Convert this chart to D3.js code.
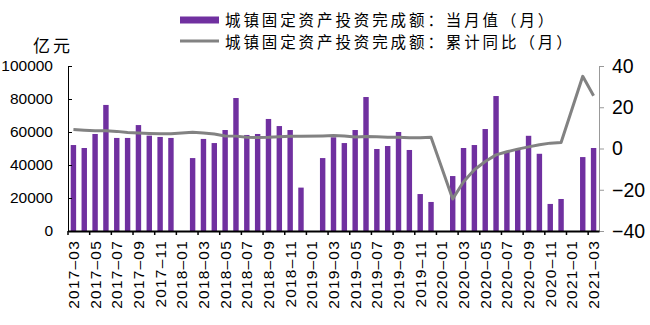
<!DOCTYPE html>
<html><head><meta charset="utf-8">
<script src="https://cdn.jsdelivr.net/npm/d3@7"></script>
<style>
body{margin:0;background:#fff;}
svg{display:block;}
</style></head><body>
<svg id="c" width="650" height="325"></svg>
<script>
const months = ["2017-03","2017-04","2017-05","2017-06","2017-07","2017-08","2017-09","2017-10","2017-11","2017-12",
"2018-01","2018-02","2018-03","2018-04","2018-05","2018-06","2018-07","2018-08","2018-09","2018-10","2018-11","2018-12",
"2019-01","2019-02","2019-03","2019-04","2019-05","2019-06","2019-07","2019-08","2019-09","2019-10","2019-11","2019-12",
"2020-01","2020-02","2020-03","2020-04","2020-05","2020-06","2020-07","2020-08","2020-09","2020-10","2020-11","2020-12",
"2021-01","2021-02","2021-03"];
const monthlyValue = [52100,50300,58800,76400,56400,56400,64200,57800,57000,56400,
null,44200,55800,53300,61200,80600,58200,58800,67900,63600,61200,26300,
null,44200,56800,53300,61200,81200,49700,51500,60000,49100,22400,17600,
null,33300,50300,52100,61800,81800,48000,49500,57700,46800,16400,19400,
null,44800,50300];
const cumulativeYoY = [9.2,8.9,8.6,8.6,8.3,7.8,7.5,7.3,7.2,7.2,
null,7.9,7.5,7.0,6.1,6.0,5.5,5.3,5.4,5.7,5.9,5.9,
null,6.1,6.3,6.1,5.6,5.8,5.7,5.5,5.4,5.2,5.2,5.4,
null,-24.5,-16.1,-10.3,-6.3,-3.1,-1.6,-0.3,0.8,1.8,2.6,2.9,
null,35.0,25.6];
const leftTicks = [0,20000,40000,60000,80000,100000];
const rightTicks = [-40,-20,0,20,40];
const seriesNames = ["城镇固定资产投资完成额：当月值（月）","城镇固定资产投资完成额：累计同比（月）"];
const unitLabel = "亿元";

const L=68,R=599,T=66,B=231;
const purple="#7030A0", grey="#828282";
const svg=d3.select("#c");
const x=d3.scaleBand().domain(months).range([L,R]).paddingInner(0).paddingOuter(0);
const yL=d3.scaleLinear().domain([0,100000]).range([B,T]);
const yR=d3.scaleLinear().domain([-40,40]).range([B,T]);
const bw=x.bandwidth(), barW=bw*0.5;

// bars
svg.append("g").selectAll("rect").data(months.map((m,i)=>({m,v:monthlyValue[i]})).filter(d=>d.v!=null))
 .join("rect").attr("x",d=>x(d.m)+(bw-barW)/2).attr("width",barW)
 .attr("y",d=>yL(d.v)).attr("height",d=>yL(0)-yL(d.v)).attr("fill",purple);

// line
const lineData=months.map((m,i)=>({m,v:cumulativeYoY[i]})).filter(d=>d.v!=null);
svg.append("path").datum(lineData).attr("fill","none").attr("stroke",grey).attr("stroke-width",3)
 .attr("stroke-linejoin","round")
 .attr("d",d3.line().x(d=>x(d.m)+bw/2).y(d=>yR(d.v)));

// left axis
const gl=svg.append("g").attr("transform",`translate(${L},0)`)
 .call(d3.axisLeft(yL).tickValues(leftTicks).tickSizeInner(-4).tickSizeOuter(0).tickPadding(15).tickFormat(d3.format("d")));
gl.select(".domain").attr("stroke","#000");
gl.selectAll(".tick line").attr("stroke","#000");
gl.selectAll("text").attr("font-family","Liberation Sans, Arial, sans-serif").attr("font-size","15.5px").attr("fill","#000");

// right axis
const gr=svg.append("g").attr("transform",`translate(${R},0)`)
 .call(d3.axisRight(yR).tickValues(rightTicks).tickSizeInner(5).tickSizeOuter(0).tickPadding(8).tickFormat(d=>d<0?"−"+Math.abs(d):d));
gr.select(".domain").attr("stroke","#999");
gr.selectAll(".tick line").attr("stroke","#999");
gr.selectAll("text").attr("font-family","Liberation Sans, Arial, sans-serif").attr("font-size","19.5px").attr("fill","#000");

// bottom axis
const labelled=months.filter((m,i)=>i%2===0);
const gb=svg.append("g").attr("transform",`translate(0,${B})`)
 .call(d3.axisBottom(x).tickValues(labelled).tickSizeInner(4).tickSizeOuter(0).tickPadding(0).tickFormat(d=>d.replace("-","–")));
gb.select(".domain").attr("stroke","#000").attr("stroke-width",2);
gb.selectAll(".tick line").attr("stroke","#000").attr("stroke-width",1.5).attr("transform",`translate(${-bw/2},0)`);
gb.selectAll("text").attr("transform","rotate(-90)").attr("x",-9).attr("y",0).attr("dy","0.35em")
 .attr("text-anchor","end").attr("font-family","Liberation Sans, Arial, sans-serif").attr("font-size","15.5px")
 .attr("letter-spacing","1.2px").attr("fill","#000");

// unit label
svg.append("text").attr("x",33).attr("y",52).text(unitLabel)
 .attr("font-family","Noto Sans CJK SC").attr("font-size","17px").attr("letter-spacing","3px").attr("fill","#000");

// legend
const lg=svg.append("g");
lg.append("rect").attr("x",180).attr("y",16.5).attr("width",39).attr("height",7).attr("fill",purple);
lg.append("line").attr("x1",180).attr("x2",219).attr("y1",41).attr("y2",41).attr("stroke",grey).attr("stroke-width",3);
lg.selectAll("text").data(seriesNames).join("text")
 .attr("x",225).attr("y",(d,i)=>20+i*22).attr("dy","0.36em").text(d=>d)
 .attr("font-family","Noto Sans CJK SC").attr("font-size","15.5px").attr("letter-spacing","2.9px").attr("fill","#000");
</script></body></html>
